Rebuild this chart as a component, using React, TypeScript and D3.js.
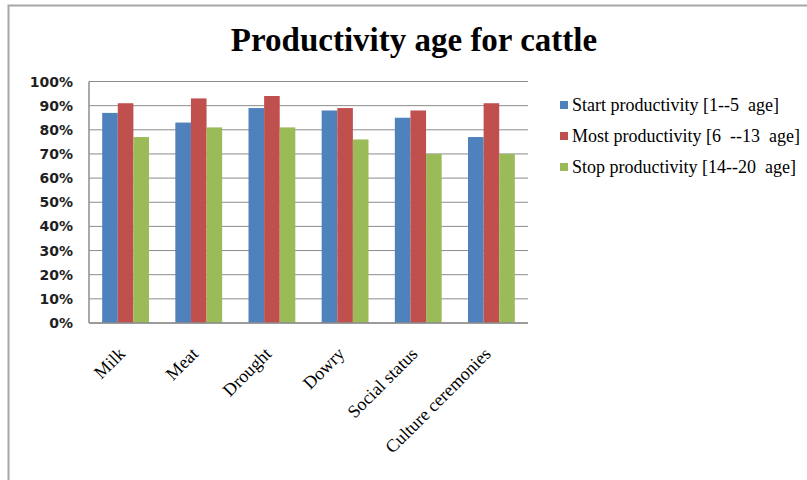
import React from "react";
import * as d3 from "d3";

const categories = ["Milk", "Meat", "Drought", "Dowry", "Social status", "Culture ceremonies"];
const seriesNames = [
  "Start productivity [1--5  age]",
  "Most productivity [6  --13  age]",
  "Stop productivity [14--20  age]",
];
const startValues = [0.87, 0.83, 0.89, 0.88, 0.85, 0.77];
const mostValues = [0.91, 0.93, 0.94, 0.89, 0.88, 0.91];
const stopValues = [0.77, 0.81, 0.81, 0.76, 0.70, 0.70];
const yTicks = [0, 0.1, 0.2, 0.3, 0.4, 0.5, 0.6, 0.7, 0.8, 0.9, 1.0];
const colors = ["#4F81BD", "#C0504D", "#9BBB59"];

const W = 807;
const H = 480;
const plot = { left: 89, right: 528, top: 81.5, bottom: 323 };

export default function App() {
  const series = [startValues, mostValues, stopValues];
  const x0 = d3
    .scaleBand<string>()
    .domain(categories)
    .range([plot.left, plot.right])
    .paddingInner(0.36)
    .paddingOuter(0.18);
  const x1 = d3
    .scaleBand<number>()
    .domain([0, 1, 2])
    .range([0, x0.bandwidth()]);
  const y = d3.scaleLinear().domain([0, 1]).range([plot.bottom, plot.top]);
  const catCenter = (c: string) => (x0(c) as number) + x0.bandwidth() / 2;
  const fmt = d3.format(".0%");

  return (
    <svg
      width={W}
      height={H}
      style={{ position: "absolute", left: 0, top: 0, background: "#fff" }}
    >
      {/* chart frame */}
      <rect x={8.5} y={5.5} width={W + 10} height={H + 10} fill="#fff" stroke="#a6a6a6" strokeWidth={2} />

      <text
        x={414}
        y={51}
        textAnchor="middle"
        fontFamily="'Liberation Serif', 'Times New Roman', serif"
        fontWeight="bold"
        fontSize={33}
        fill="#000"
      >
        Productivity age for cattle
      </text>

      {/* gridlines */}
      {yTicks.map((t) => (
        <line
          key={"g" + t}
          x1={plot.left}
          x2={plot.right}
          y1={y(t)}
          y2={y(t)}
          stroke="#8c8c8c"
          strokeWidth={1}
        />
      ))}
      {/* y axis line */}
      <line x1={plot.left} x2={plot.left} y1={plot.top} y2={plot.bottom} stroke="#8c8c8c" strokeWidth={1.5} />

      {/* y tick labels */}
      {yTicks.map((t) => (
        <text
          key={"yl" + t}
          x={73}
          y={y(t) + 5}
          textAnchor="end"
          fontFamily="'DejaVu Sans', Verdana, sans-serif"
          fontWeight="bold"
          fontSize={14}
          fill="#1f1f1f"
        >
          {fmt(t)}
        </text>
      ))}

      {/* bars */}
      {categories.map((c, i) => (
        <g key={c} transform={`translate(${x0(c)},0)`}>
          {series.map((vals, s) => (
            <rect
              key={s}
              x={x1(s)}
              y={y(vals[i])}
              width={x1.bandwidth()}
              height={y(0) - y(vals[i])}
              fill={colors[s]}
            />
          ))}
        </g>
      ))}

      {/* x axis line */}
      <line x1={plot.left} x2={plot.right} y1={plot.bottom} y2={plot.bottom} stroke="#8c8c8c" strokeWidth={1.5} />

      {/* x tick labels */}
      {categories.map((c) => {
        const cx = catCenter(c) + 0.5;
        const cy = 355;
        return (
          <text
            key={"xl" + c}
            transform={`translate(${cx},${cy}) rotate(-45)`}
            textAnchor="end"
            fontFamily="'Liberation Serif', 'Times New Roman', serif"
            fontSize={18}
            fill="#000"
          >
            {c}
          </text>
        );
      })}

      {/* legend */}
      {seriesNames.map((name, s) => (
        <g key={name} transform={`translate(560,${101 + s * 31})`}>
          <rect x={0} y={0} width={8} height={8} fill={colors[s]} />
          <text
            x={12}
            y={10}
            fontFamily="'Liberation Serif', 'Times New Roman', serif"
            fontSize={18}
            fill="#000"
            style={{ whiteSpace: "pre" }}
          >
            {name}
          </text>
        </g>
      ))}
    </svg>
  );
}
